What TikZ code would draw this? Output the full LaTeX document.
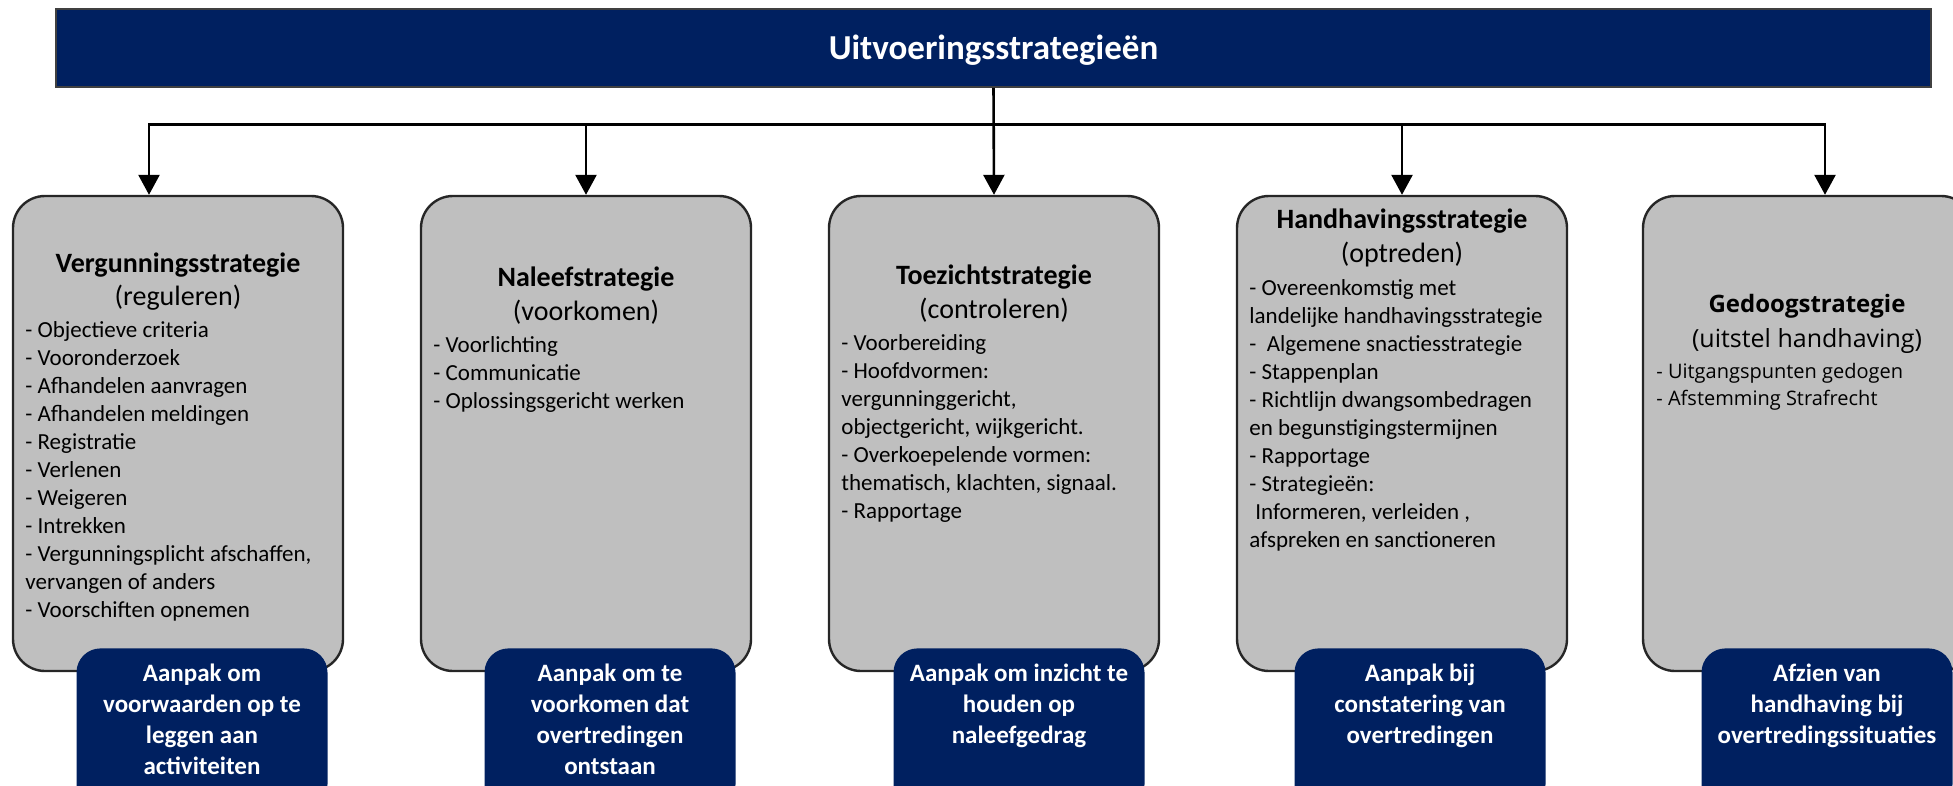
\documentclass[tikz,border=0pt]{standalone}
\usepackage{fontspec}
\setmainfont{Carlito}
\newfontfamily\gedoogfont{Open Sans}
\usetikzlibrary{arrows.meta, positioning, calc}

\definecolor{navy}{RGB}{0,32,96}
\definecolor{stratgrey}{RGB}{191,191,191}

\tikzset{
  balk/.style={rectangle, fill=navy, draw=black!75, line width=0.8pt,
    minimum width=937.5pt, minimum height=39pt, inner sep=0pt, text=white,
    font=\bfseries\fontsize{17.5}{20}\selectfont, text height=11.3pt, text depth=0pt},
  strat/.style={rectangle, rounded corners=16pt, draw=black!85, line width=1.2pt,
    fill=stratgrey, minimum width=165pt, minimum height=237.5pt, inner sep=0pt},
  aanpak/.style={rectangle, rounded corners=12pt, fill=navy, anchor=north,
    minimum width=125.5pt, minimum height=80pt, inner sep=0pt},
  aanpaktekst/.style={anchor=north, align=center, inner sep=0pt, text=white,
    font=\bfseries\fontsize{12.5}{15.5}\selectfont},
  kop/.style={anchor=base, inner sep=0pt, font=\bfseries\fontsize{14}{16}\selectfont},
  ondertitel/.style={anchor=base, inner sep=0pt, font=\fontsize{14}{16}\selectfont},
  punten/.style={anchor=north west, align=left, inner sep=0pt,
    font=\fontsize{11.5}{14}\selectfont},
  pijl/.style={-{Triangle[width=10.5pt,length=10pt]}, line width=1.3pt}
}

\begin{document}
\begin{tikzpicture}[x=0.5pt,y=-0.5pt]
    \useasboundingbox (0,0) rectangle (1953,786);
    \clip (0,0) rectangle (1953,786);

    % Kop
    \node[balk] (uitv) at (993.5,48) {Uitvoeringsstrategieën};

    % Strategieblokken
    \node[strat] (s1) at (178,433.5) {};
    \node[strat] (s2) at (586,433.5) {};
    \node[strat] (s3) at (994,433.5) {};
    \node[strat] (s4) at (1402,433.5) {};
    \node[strat] (s5) at (1808,433.5) {};

    % Vergunningsstrategie
    \node[kop] (s1kop) at (178,272) {Vergunningsstrategie};
    \node[ondertitel] (s1sub) at (178,305) {(reguleren)};
    \node[punten] (s1lijst) at (25,321) {- Objectieve criteria\\- Vooronderzoek\\- Afhandelen aanvragen\\- Afhandelen meldingen\\- Registratie\\- Verlenen\\- Weigeren\\- Intrekken\\- Vergunningsplicht afschaffen,\\vervangen of anders\\- Voorschiften opnemen};

    % Naleefstrategie
    \node[kop] (s2kop) at (586,286) {Naleefstrategie};
    \node[ondertitel] (s2sub) at (586,320) {(voorkomen)};
    \node[punten] (s2lijst) at (433,336) {- Voorlichting\\- Communicatie\\- Oplossingsgericht werken};

    % Toezichtstrategie
    \node[kop] (s3kop) at (994,285) {Toezichtstrategie};
    \node[ondertitel] (s3sub) at (994,318) {(controleren)};
    \node[punten] (s3lijst) at (841,334) {- Voorbereiding\\- Hoofdvormen:\\vergunninggericht,\\objectgericht, wijkgericht.\\- Overkoepelende vormen:\\thematisch, klachten, signaal.\\- Rapportage};

    % Handhavingsstrategie
    \node[kop] (s4kop) at (1402,228) {Handhavingsstrategie};
    \node[ondertitel] (s4sub) at (1402,263) {(optreden)};
    \node[punten] (s4lijst) at (1249,279) {- Overeenkomstig met\\landelijke handhavingsstrategie\\-\ \ Algemene snactiesstrategie\\- Stappenplan\\- Richtlijn dwangsombedragen\\en begunstigingstermijnen\\- Rapportage\\- Strategieën:\\\hspace*{3pt}Informeren, verleiden ,\\afspreken en sanctioneren};

    % Gedoogstrategie
    \node[kop, font=\gedoogfont\bfseries\fontsize{12}{14}\selectfont] (s5kop) at (1807,312) {Gedoogstrategie};
    \node[ondertitel, font=\gedoogfont\fontsize{12.5}{14}\selectfont] (s5sub) at (1807,347) {(uitstel handhaving)};
    \node[punten, font=\gedoogfont\fontsize{10}{13.5}\selectfont] (s5lijst) at (1656,363) {- Uitgangspunten gedogen\\- Afstemming Strafrecht};

    % Aanpak
    \node[aanpak] (a1) at (202,648) {};
    \node[aanpak] (a2) at (610,648) {};
    \node[aanpak] (a3) at (1019,648) {};
    \node[aanpak] (a4) at (1420,648) {};
    \node[aanpak] (a5) at (1827,648) {};
    \node[aanpaktekst] (a1t) at ([yshift=-8pt]a1.north) {Aanpak om\\voorwaarden op te\\leggen aan\\activiteiten};
    \node[aanpaktekst] (a2t) at ([yshift=-8pt]a2.north) {Aanpak om te\\voorkomen dat\\overtredingen\\ontstaan};
    \node[aanpaktekst] (a3t) at ([yshift=-8pt]a3.north) {Aanpak om inzicht te\\houden op\\naleefgedrag};
    \node[aanpaktekst] (a4t) at ([yshift=-8pt]a4.north) {Aanpak bij\\constatering van\\overtredingen};
    \node[aanpaktekst] (a5t) at ([yshift=-8pt]a5.north) {Afzien van\\handhaving bij\\overtredingssituaties};

    % Pijlen
    \coordinate (hub) at ([yshift=-18.5pt]uitv.south);
    \draw[pijl] (uitv.south) -- (s3.north);
    \draw[pijl] (hub) -| ([xshift=-14.5pt]s1.north);
    \draw[pijl] (hub) -| (s2.north);
    \draw[pijl] (hub) -| (s4.north);
    \draw[pijl] (hub) -| ([xshift=8.5pt]s5.north);
\end{tikzpicture}
\end{document}
